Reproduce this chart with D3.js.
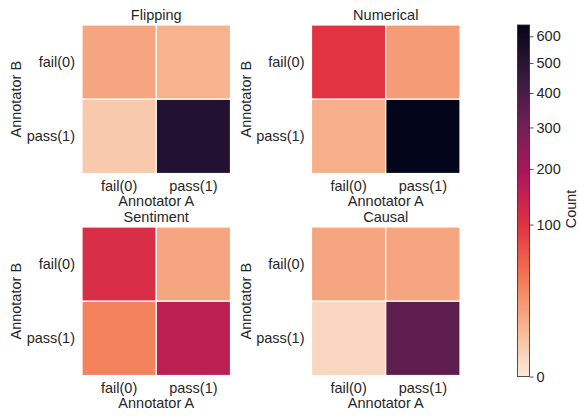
<!DOCTYPE html>
<html>
<head>
<meta charset="utf-8">
<script src="https://cdn.jsdelivr.net/npm/d3@7"></script>
<style>
  html, body { margin: 0; padding: 0; background: #fff; }
  svg { display: block; font-family: "Liberation Sans", Arial, sans-serif; }
  text { fill: #262626; }
</style>
</head>
<body>
<svg id="chart" width="579" height="417"></svg>
<script>
// Agreement counts between two annotators, rows = Annotator B, columns = Annotator A
const labels = ["fail(0)", "pass(1)"];
const taskNames = ["Flipping", "Numerical", "Sentiment", "Causal"];
const flipping  = [[14, 9], [3, 525]];
const numerical = [[98, 18], [10, 645]];
const sentiment = [[110, 14], [32, 158]];
const causal    = [[14, 14], [1, 350]];
const matrices = [flipping, numerical, sentiment, causal];
const cbTicks = [0, 100, 200, 300, 400, 500, 600];

// Reversed "rocket" colour ramp (light for low counts, dark for high)
const rocketStops = ["#03051a", "#35193e", "#701f57", "#ad1759", "#e13342", "#f37651", "#f6b48f", "#faebdd"];
const rocket = d3.piecewise(d3.interpolateRgb, rocketStops);
const rocketR = t => rocket(1 - t);

const vmax = d3.max(matrices.flat(2));
const norm = d3.scalePow().exponent(0.45).domain([0, vmax]).range([0, 1]).clamp(true);
const color = v => rocketR(norm(v));

const svg = d3.select("#chart");
const FS = 14.5;
const cellSize = 148.5;
const panels = [
  {x: 82, y: 25}, {x: 311.5, y: 25},
  {x: 82, y: 227}, {x: 311.5, y: 227}
];

matrices.forEach((m, i) => {
  const p = panels[i];
  const g = svg.append("g").attr("transform", `translate(${p.x},${p.y})`);
  const x = d3.scaleBand().domain(labels).range([0, cellSize]);
  const y = d3.scaleBand().domain(labels).range([0, cellSize]);

  const cells = [];
  m.forEach((row, r) => row.forEach((v, c) => cells.push({r: labels[r], c: labels[c], v})));

  g.selectAll("rect.cell").data(cells).join("rect")
    .attr("class", "cell")
    .attr("x", d => x(d.c)).attr("y", d => y(d.r))
    .attr("width", x.bandwidth()).attr("height", y.bandwidth())
    .attr("fill", d => color(d.v))
    .attr("stroke", "#fff").attr("stroke-width", 1.2);

  const ax = g.append("g").attr("transform", `translate(0,${cellSize})`)
    .call(d3.axisBottom(x).tickSize(0).tickPadding(7));
  ax.select(".domain").remove();
  ax.selectAll("text").attr("font-size", FS).attr("fill", "#262626").attr("font-family", null);

  const ay = g.append("g")
    .call(d3.axisLeft(y).tickSize(0).tickPadding(7));
  ay.select(".domain").remove();
  ay.selectAll("text").attr("font-size", FS).attr("fill", "#262626").attr("font-family", null);

  g.append("text")
    .attr("x", cellSize / 2).attr("y", -5.5)
    .attr("text-anchor", "middle").attr("font-size", FS)
    .text(taskNames[i]);

  g.append("text")
    .attr("x", cellSize / 2).attr("y", cellSize + 32)
    .attr("text-anchor", "middle").attr("font-size", FS)
    .text("Annotator A");

  g.append("text")
    .attr("transform", `translate(${-61},${cellSize / 2}) rotate(-90)`)
    .attr("text-anchor", "middle").attr("font-size", FS)
    .text("Annotator B");
});

// Colour bar
const cb = {x: 517.5, y: 25, w: 12, h: 351.5};
const defs = svg.append("defs");
const grad = defs.append("linearGradient").attr("id", "cbgrad")
  .attr("x1", 0).attr("y1", 1).attr("x2", 0).attr("y2", 0);
d3.range(0, 1.0001, 0.02).forEach(t => {
  grad.append("stop").attr("offset", t).attr("stop-color", rocketR(t));
});
const cbScale = d3.scalePow().exponent(0.45).domain([0, vmax]).range([cb.y + cb.h, cb.y]);
svg.append("rect")
  .attr("x", cb.x).attr("y", cb.y).attr("width", cb.w).attr("height", cb.h)
  .attr("fill", "url(#cbgrad)")
  .attr("stroke", "#262626").attr("stroke-width", 0.8);
const cax = svg.append("g").attr("transform", `translate(${cb.x + cb.w},0)`)
  .call(d3.axisRight(cbScale).tickValues(cbTicks).tickSize(4).tickPadding(3));
cax.select(".domain").remove();
cax.selectAll("line").attr("stroke", "#262626").attr("stroke-width", 0.8);
cax.selectAll("text").attr("font-size", FS).attr("fill", "#262626").attr("font-family", null);

svg.append("text")
  .attr("transform", `translate(570.5,${209}) rotate(-90)`)
  .attr("text-anchor", "middle").attr("dominant-baseline", "central")
  .attr("font-size", FS)
  .text("Count");
</script>
</body>
</html>
